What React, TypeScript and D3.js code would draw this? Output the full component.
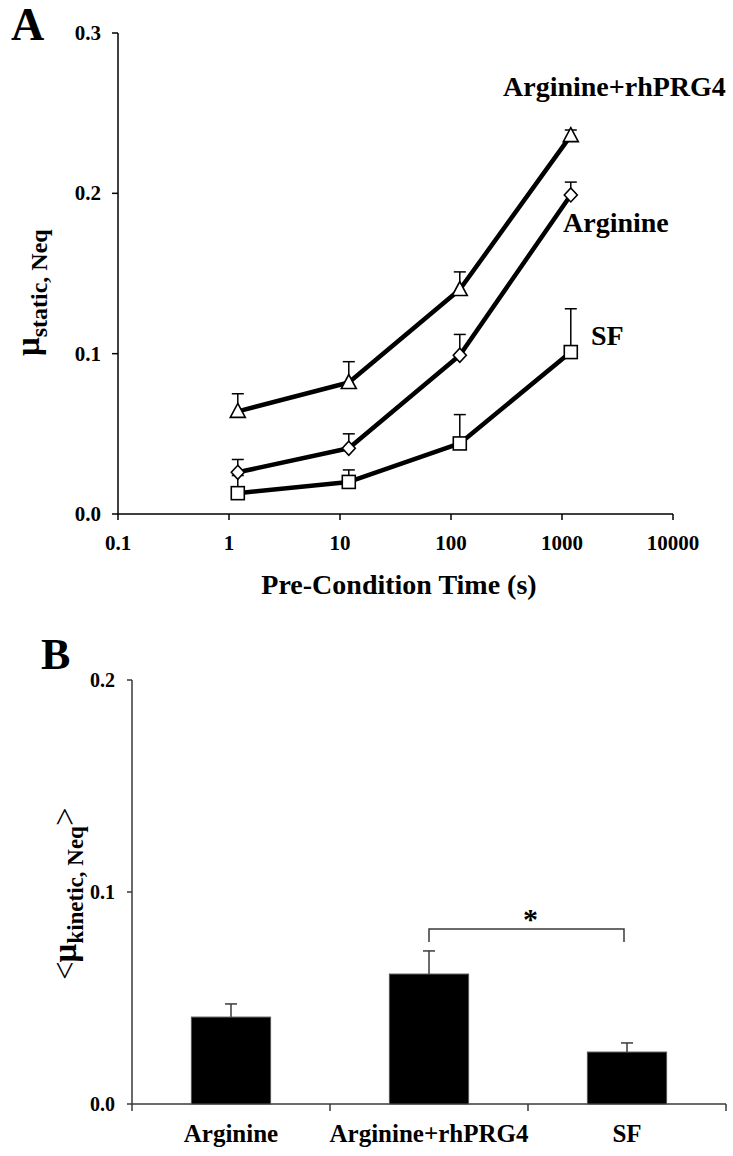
import React from 'react';
import * as d3 from 'd3';

// ---------- Panel A data ----------
const timesA = [1.2, 12, 120, 1200];
const sfMean = [0.013, 0.020, 0.044, 0.101];
const sfErr = [0.011, 0.0075, 0.018, 0.027];
const argMean = [0.026, 0.041, 0.099, 0.199];
const argErr = [0.008, 0.009, 0.013, 0.008];
const argPrgMean = [0.064, 0.082, 0.140, 0.236];
const argPrgErr = [0.011, 0.013, 0.011, 0.0035];
const xTicksA = [0.1, 1, 10, 100, 1000, 10000];
const xTickLabelsA = ['0.1', '1', '10', '100', '1000', '10000'];
const yTicksA = [0, 0.1, 0.2, 0.3];

// ---------- Panel B data ----------
const categoriesB = ['Arginine', 'Arginine+rhPRG4', 'SF'];
const kineticMean = [0.041, 0.0613, 0.0245];
const kineticErr = [0.0062, 0.0109, 0.0043];
const yTicksB = [0, 0.1, 0.2];
const sigPair = ['Arginine+rhPRG4', 'SF'];
const sigLevel = [0.0825, 0.0764];

const FONT = '"Liberation Serif", "Times New Roman", serif';

const seriesA = [
  { name: 'SF', mean: sfMean, err: sfErr, marker: 'square' },
  { name: 'Arginine', mean: argMean, err: argErr, marker: 'diamond' },
  { name: 'Arginine+rhPRG4', mean: argPrgMean, err: argPrgErr, marker: 'triangle' },
];

function Marker({ type, x, y }: { type: string; x: number; y: number }) {
  const common = { fill: 'white', stroke: 'black', strokeWidth: 1.6 };
  if (type === 'square') {
    return <rect x={x - 6.5} y={y - 6.5} width={13} height={13} {...common} />;
  }
  if (type === 'diamond') {
    return <path d={`M${x},${y - 7} L${x + 6.5},${y} L${x},${y + 7} L${x - 6.5},${y} Z`} {...common} />;
  }
  return <path d={`M${x},${y - 8} L${x + 7.5},${y + 6} L${x - 7.5},${y + 6} Z`} {...common} />;
}

export default function App() {
  // Panel A scales
  const xA = d3.scaleLog().domain([0.1, 10000]).range([118, 673]);
  const yA = d3.scaleLinear().domain([0, 0.3]).range([514, 33]);
  const line = d3.line<[number, number]>().x((d) => xA(d[0])).y((d) => yA(d[1]));

  // Panel B scales
  const xB = d3.scaleBand().domain(categoriesB).range([132, 726]).paddingInner(0.6).paddingOuter(0.3);
  const yB = d3.scaleLinear().domain([0, 0.2]).range([1104, 680]);
  const stepB = xB.step();
  const boundaries = [0, 1, 2, 3].map((i) => 132 + i * stepB);

  const capW = 6;

  return (
    <svg
      width={733}
      height={1156}
      style={{ position: 'absolute', left: 0, top: 0, background: 'white' }}
      fontFamily={FONT}
      fontWeight="bold"
    >
      <rect x={0} y={0} width={733} height={1156} fill="white" />

      {/* ================= Panel A ================= */}
      <text x={11} y={40} fontSize={46}>A</text>

      {/* axes */}
      <line x1={118} y1={yA(0.3)} x2={118} y2={yA(0)} stroke="black" strokeWidth={1.5} />
      <line x1={118} y1={yA(0)} x2={673} y2={yA(0)} stroke="black" strokeWidth={1.5} />
      {yTicksA.map((t) => (
        <g key={'ya' + t}>
          <line x1={112} x2={118} y1={yA(t)} y2={yA(t)} stroke="black" strokeWidth={1.5} />
          <text x={101} y={yA(t) + 7} fontSize={21} textAnchor="end">{t.toFixed(1)}</text>
        </g>
      ))}
      {xTicksA.map((t, i) => (
        <g key={'xa' + t}>
          <line x1={xA(t)} x2={xA(t)} y1={yA(0)} y2={yA(0) + 6} stroke="black" strokeWidth={1.5} />
          <text x={xA(t)} y={550} fontSize={21} textAnchor="middle">{xTickLabelsA[i]}</text>
        </g>
      ))}

      {/* axis titles */}
      <text x={399} y={594} fontSize={28} textAnchor="middle">Pre-Condition Time (s)</text>
      <text transform="translate(39,356) rotate(-90)" fontSize={33}>
        <tspan>μ</tspan>
        <tspan fontSize={24} dy={8}>static, Neq</tspan>
      </text>

      {/* lines */}
      {seriesA.map((s) => (
        <path
          key={'l' + s.name}
          d={line(timesA.map((t, i) => [t, s.mean[i]] as [number, number])) || ''}
          fill="none"
          stroke="black"
          strokeWidth={4.5}
          strokeLinejoin="round"
        />
      ))}
      {/* error bars */}
      {seriesA.map((s) =>
        timesA.map((t, i) => {
          const x = xA(t);
          const top = yA(s.mean[i] + s.err[i]);
          return (
            <g key={'e' + s.name + i}>
              <line x1={x} x2={x} y1={yA(s.mean[i])} y2={top} stroke="black" strokeWidth={1.5} />
              <line x1={x - capW} x2={x + capW} y1={top} y2={top} stroke="black" strokeWidth={1.5} />
            </g>
          );
        })
      )}
      {/* markers */}
      {seriesA.map((s) =>
        timesA.map((t, i) => <Marker key={'m' + s.name + i} type={s.marker} x={xA(t)} y={yA(s.mean[i])} />)
      )}

      {/* series labels */}
      <text x={503} y={96} fontSize={28}>Arginine+rhPRG4</text>
      <text x={563} y={232} fontSize={28}>Arginine</text>
      <text x={591} y={345} fontSize={28}>SF</text>

      {/* ================= Panel B ================= */}
      <text x={41} y={669} fontSize={44}>B</text>

      <line x1={132} y1={yB(0.2)} x2={132} y2={yB(0)} stroke="#3a3a3a" strokeWidth={1.5} />
      <line x1={132} y1={yB(0)} x2={726} y2={yB(0)} stroke="#3a3a3a" strokeWidth={1.5} />
      {yTicksB.map((t) => (
        <g key={'yb' + t}>
          <line x1={127} x2={132} y1={yB(t)} y2={yB(t)} stroke="#3a3a3a" strokeWidth={1.5} />
          <text x={115} y={yB(t) + 7} fontSize={20} textAnchor="end">{t.toFixed(1)}</text>
        </g>
      ))}
      {boundaries.map((bx, i) => (
        <line key={'xb' + i} x1={bx} x2={bx} y1={yB(0)} y2={yB(0) + 7} stroke="#3a3a3a" strokeWidth={1.5} />
      ))}

      {/* bars */}
      {categoriesB.map((c, i) => {
        const x0 = xB(c) as number;
        const w = xB.bandwidth();
        const cx = x0 + w / 2;
        const top = yB(kineticMean[i] + kineticErr[i]);
        return (
          <g key={'b' + c}>
            <line x1={cx} x2={cx} y1={yB(kineticMean[i])} y2={top} stroke="#3a3a3a" strokeWidth={1.5} />
            <line x1={cx - 6} x2={cx + 6} y1={top} y2={top} stroke="#3a3a3a" strokeWidth={1.5} />
            <rect x={x0} y={yB(kineticMean[i])} width={w} height={yB(0) - yB(kineticMean[i])} fill="black" stroke="#555" strokeWidth={1} />
            <text x={cx} y={1142} fontSize={25} textAnchor="middle">{c}</text>
          </g>
        );
      })}

      {/* significance bracket */}
      {(() => {
        const xa = (xB(sigPair[0]) as number) + xB.bandwidth() / 2;
        const xc = (xB(sigPair[1]) as number) + xB.bandwidth() / 2 - 3;
        const yt = yB(sigLevel[0]);
        const yb = yB(sigLevel[1]);
        return (
          <g>
            <path d={`M${xa},${yb} L${xa},${yt} L${xc},${yt} L${xc},${yb}`} fill="none" stroke="#3a3a3a" strokeWidth={1.5} />
            <text x={(xa + xc) / 2 + 4} y={929} fontSize={30} textAnchor="middle">*</text>
          </g>
        );
      })()}

      {/* y title B */}
      <text transform="translate(76,980) rotate(-90)" fontSize={33}>
        <tspan fontWeight="normal">&lt;</tspan>
        <tspan dx={-1}>μ</tspan>
        <tspan fontSize={23} dy={7}>kinetic, Neq</tspan>
        <tspan fontWeight="normal" dy={-7}>&gt;</tspan>
      </text>
    </svg>
  );
}
